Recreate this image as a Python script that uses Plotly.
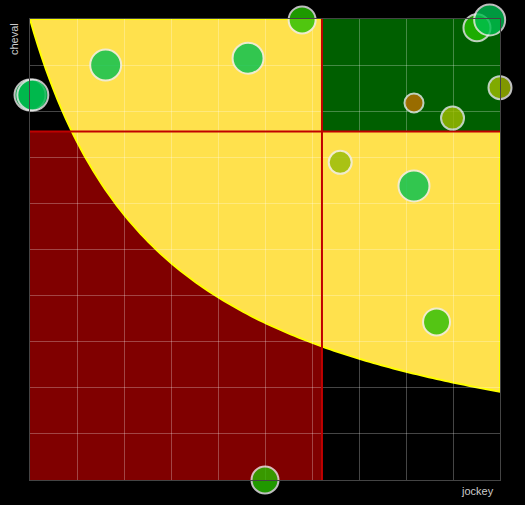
import numpy as np
import plotly.graph_objects as go

# ---- data ----
jockey = [0.579, 0.464, 0.161, 0.000, 0.006, 0.951, 0.978, 0.817, 0.899, 1.000, 0.660, 0.817, 0.865, 0.500]
cheval = [0.998, 0.915, 0.900, 0.835, 0.835, 0.981, 0.998, 0.818, 0.785, 0.851, 0.689, 0.638, 0.343, 0.000]
bubble_size = [27, 31, 31, 31, 31, 27, 31, 19, 23, 23, 23, 31, 27, 27]
bubble_color = ["#25c000", "#00c050", "#00c050", "#00c050", "#00c050", "#25c000", "#00c050",
                "#c07000", "#a0bd00", "#a0bd00", "#94bb06", "#00c050", "#2abf06", "#28be00"]

# frontier curve parameters: cheval = c/(jockey+b) - d
fb, fc, fd = 0.293, 0.306, 0.045

mean_x = float(np.mean(jockey))
mean_y = float(np.mean(cheval))

# frontier path
xs = np.linspace(0, 1, 120)
ys = fc / (xs + fb) - fd
path = "M 0,1 " + " ".join(f"L {x:.4f},{y:.4f}" for x, y in zip(xs, ys)) + " L 1,1 Z"

fig = go.Figure()

shapes = [
    dict(type="rect", xref="x", yref="y", x0=0, x1=mean_x, y0=0, y1=mean_y,
         fillcolor="#800000", line=dict(width=0), layer="below"),
    dict(type="path", xref="x", yref="y", path=path,
         fillcolor="#ffe14d", line=dict(color="#ffff00", width=2), layer="below"),
    dict(type="rect", xref="x", yref="y", x0=mean_x, x1=1, y0=mean_y, y1=1,
         fillcolor="#005f00", line=dict(width=0), layer="below"),
]

# mean lines
fig.add_trace(go.Scatter(x=[mean_x, mean_x], y=[0, 1], mode="lines",
                         line=dict(color="#c00000", width=2), hoverinfo="skip", showlegend=False))
fig.add_trace(go.Scatter(x=[0, 1], y=[mean_y, mean_y], mode="lines",
                         line=dict(color="#c00000", width=2), hoverinfo="skip", showlegend=False))

fig.add_trace(go.Scatter(
    x=jockey, y=cheval, mode="markers", cliponaxis=False, showlegend=False,
    marker=dict(size=bubble_size, color=bubble_color, opacity=0.8,
                line=dict(color="#eeeeee", width=2)),
))

axis_common = dict(range=[0, 1], dtick=0.1, showgrid=True, gridcolor="rgba(255,255,255,0.27)",
                   gridwidth=1, zeroline=False, showticklabels=False, ticks="",
                   showline=True, linecolor="#444444", linewidth=1, mirror=True)

fig.update_layout(
    width=525, height=505,
    margin=dict(l=30, r=25, t=19, b=25),
    paper_bgcolor="#000000", plot_bgcolor="#000000",
    xaxis=axis_common, yaxis=axis_common,
    shapes=shapes,
    annotations=[
        dict(text="jockey", xref="paper", yref="paper", x=1.0, y=0, xanchor="right", yanchor="top",
             xshift=-4, yshift=-3, showarrow=False,
             font=dict(family="Liberation Sans, Arial", size=11, color="#cccccc")),
        dict(text="cheval", xref="paper", yref="paper", x=0, y=1, xanchor="right", yanchor="top",
             xshift=-8, yshift=-2, textangle=-90, showarrow=False,
             font=dict(family="Liberation Sans, Arial", size=11, color="#cccccc")),
    ],
)

fig.write_html("out.html", config={"displayModeBar": False},
               post_script="document.body.style.margin='0';document.body.style.background='#000';")
